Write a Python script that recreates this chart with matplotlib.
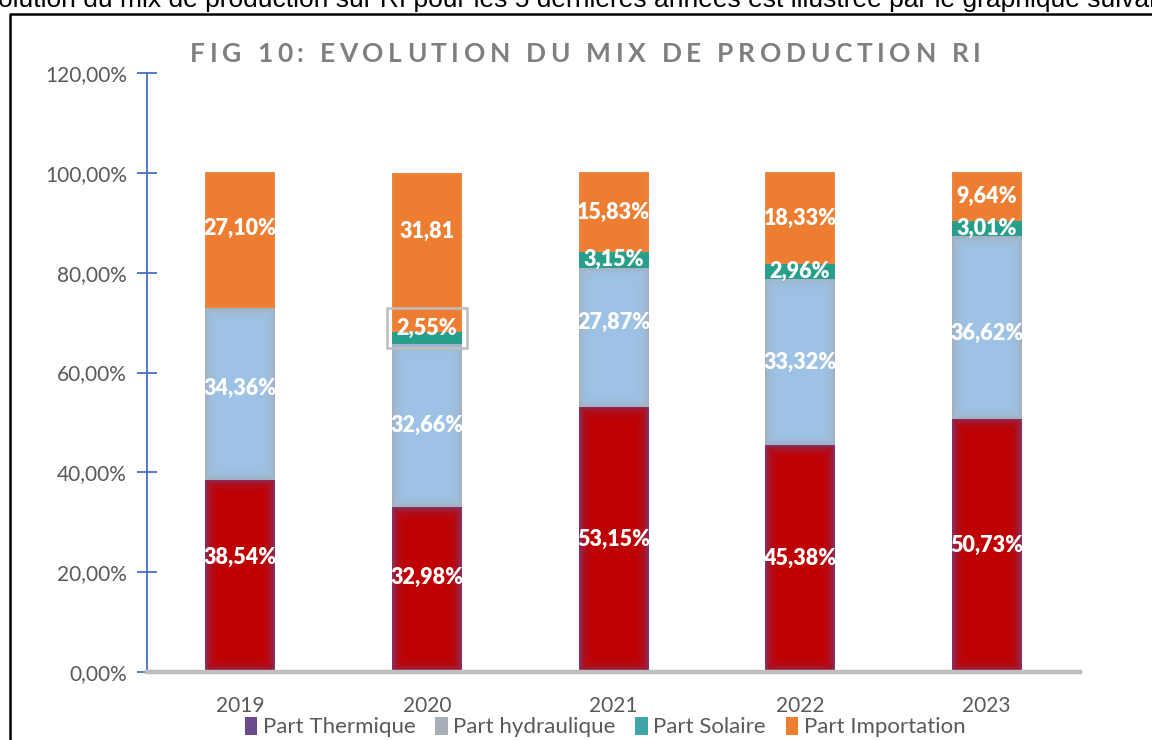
import matplotlib
matplotlib.use('Agg')
import matplotlib.pyplot as plt
import matplotlib.colors as mcolors
from matplotlib.patches import Patch
from matplotlib.lines import Line2D
import numpy as np

# ---------------- data ----------------
years = ['2019', '2020', '2021', '2022', '2023']
thermique = [38.54, 32.98, 53.15, 45.38, 50.73]
hydraulique = [34.36, 32.66, 27.87, 33.32, 36.62]
solaire = [0.0, 2.55, 3.15, 2.96, 3.01]
importation = [27.10, 31.81, 15.83, 18.33, 9.64]

lab_thermique = ['38,54%', '32,98%', '53,15%', '45,38%', '50,73%']
lab_hydraulique = ['34,36%', '32,66%', '27,87%', '33,32%', '36,62%']
lab_solaire = ['', '2,55%', '3,15%', '2,96%', '3,01%']
lab_importation = ['27,10%', '31,81', '15,83%', '18,33%', '9,64%']

series_names = ['Part Thermique', 'Part hydraulique', 'Part Solaire', 'Part Importation']
yticks = [0, 20, 40, 60, 80, 100, 120]
ytick_labels = ['0,00%', '20,00%', '40,00%', '60,00%', '80,00%', '100,00%', '120,00%']
title = 'FIG 10: EVOLUTION DU MIX DE PRODUCTION RI'
intro = 'olution du mix de production sur RI pour les 5 dernières années est illustrée par le graphique suivant'

# label nudges (style, in axis %)
nudge_th = [3.6, 2.4, 0, 0, 0]
nudge_hy = [1.0, 0, 3.0, 0, -1.2]
nudge_so = [0, 2.0, 0, 0, 0]
nudge_im = [2.4, 4.2, 0, 0, 0]

# ---------------- figure ----------------
W, H = 1152, 740
fig = plt.figure(figsize=(W / 100, H / 100), dpi=100)
fig.patch.set_facecolor('white')
ax = fig.add_axes([147 / W, 68 / H, 933 / W, 599 / H])

FONT = 'Lato'
GRAY = '#595959'

x = np.arange(len(years))
bw = 0.375
th = np.array(thermique)
hy = np.array(hydraulique)
so = np.array(solaire)
im = np.array(importation)

c_th, e_th = '#C00000', '#7C3A72'
c_hy, e_hy = '#9DC3E6', '#A2ADBB'
c_so, e_so = '#26A08A', '#2E9C8E'
c_im, e_im = '#ED7D31', '#EE8A48'

b_th = ax.bar(x, th, bw, color=c_th, linewidth=0, zorder=2)
b_hy = ax.bar(x, hy, bw, bottom=th, color=c_hy, linewidth=0, zorder=2)
b_so = ax.bar(x, so, bw, bottom=th + hy, color=c_so, linewidth=0, zorder=2)
b_im = ax.bar(x, im, bw, bottom=th + hy + so, color=c_im, linewidth=0, zorder=2)

ax.set_xlim(-0.5, len(years) - 0.5)
ax.set_ylim(0, 120)


def soft_fill(patches, c_center, c_edge, sigma):
    cc = np.array(mcolors.to_rgb(c_center))
    ce = np.array(mcolors.to_rgb(c_edge))
    for p in patches:
        x0, y0 = p.get_x(), p.get_y()
        w, h = p.get_width(), p.get_height()
        if h <= 0:
            continue
        (px0, py0), (px1, py1) = ax.transData.transform([(x0, y0), (x0 + w, y0 + h)])
        nx = max(int(round(px1 - px0)), 2)
        ny = max(int(round(py1 - py0)), 2)
        xs = np.arange(nx) + 0.5
        ys = np.arange(ny) + 0.5
        dx = np.minimum(xs, nx - xs)
        dy = np.minimum(ys, ny - ys)
        d = np.minimum(dx[None, :], dy[:, None])
        f = np.exp(-d / sigma)[..., None]
        img = cc * (1 - f) + ce * f
        ax.imshow(img, extent=(x0, x0 + w, y0, y0 + h), origin='lower',
                  aspect='auto', zorder=2.5, interpolation='bilinear')


soft_fill(b_th, c_th, e_th, 4.5)
soft_fill(b_hy, c_hy, e_hy, 4.5)
soft_fill(b_so, c_so, e_so, 2.0)
soft_fill(b_im, c_im, e_im, 1.5)

ax.set_xlim(-0.5, len(years) - 0.5)
ax.set_ylim(0, 120)

# data labels
lab_kw = dict(ha='center', va='center', color='white', fontweight='heavy',
              fontsize=15.5, family=FONT, zorder=5)
for i in range(len(years)):
    ax.text(x[i], th[i] / 2 + nudge_th[i], lab_thermique[i], **lab_kw)
    ax.text(x[i], th[i] + hy[i] / 2 + nudge_hy[i], lab_hydraulique[i], **lab_kw)
    if so[i] > 0:
        kw = dict(lab_kw)
        if i == 1:
            kw['bbox'] = dict(boxstyle='square,pad=0.45', fc='none', ec='#BFBFBF', lw=1.8)
        ax.text(x[i], th[i] + hy[i] + so[i] / 2 + nudge_so[i], lab_solaire[i], **kw)
    ax.text(x[i], th[i] + hy[i] + so[i] + im[i] / 2 + nudge_im[i], lab_importation[i], **lab_kw)

# axes styling
for s in ['top', 'right']:
    ax.spines[s].set_visible(False)
ax.spines['left'].set_color('#4472C4')
ax.spines['left'].set_linewidth(1.3)
ax.spines['bottom'].set_color('#BFBFBF')
ax.spines['bottom'].set_linewidth(3.2)
ax.spines['bottom'].set_zorder(6)

ax.set_yticks(yticks)
ax.set_yticklabels(ytick_labels)
ax.set_xticks(x)
ax.set_xticklabels(years)
ax.tick_params(axis='y', direction='inout', length=15, width=1.3, color='#4472C4',
               labelcolor=GRAY, labelsize=15, pad=7)
ax.tick_params(axis='x', length=0, labelcolor=GRAY, labelsize=15, pad=17)
for t in ax.get_xticklabels() + ax.get_yticklabels():
    t.set_family(FONT)

# legend
leg_colors = ['#6A4A8C', '#A6AEB7', '#3FA5A8', '#ED7D31']
handles = [Patch(facecolor=c, edgecolor='none') for c in leg_colors]
fig.legend(handles, series_names, loc='center', bbox_to_anchor=(605 / W, 1 - 727 / H),
           ncol=4, frameon=False, handlelength=0.55, handleheight=0.9, handletextpad=0.25,
           columnspacing=0.9, prop={'family': FONT, 'size': 16}, labelcolor=GRAY)

# title with letter spacing (char by char)
renderer = fig.canvas.get_renderer()
tkw = dict(fontsize=19, fontweight='bold', color='#7F7F7F', family=FONT,
           va='center', ha='left', transform=None)
widths = []
for ch in title:
    t = fig.text(0, 0, ch if ch != ' ' else 'n', **tkw)
    wpx = t.get_window_extent(renderer).width
    if ch == ' ':
        wpx *= 0.45
    widths.append(wpx)
    t.remove()
x_start, x_end = 190, 981
natural = sum(widths)
extra = (x_end - x_start - natural) / (len(title) - 1)
cx = x_start
for ch, wpx in zip(title, widths):
    if ch != ' ':
        fig.text(cx, H - 54, ch, **tkw)
    cx += wpx + extra

# intro text cut at top of image (as in the reference)
fig.text(-2, H - 7, intro, fontsize=19, family='Liberation Sans', color='black',
         ha='left', va='baseline', transform=None)

# outer frame (top and left borders)
fig.add_artist(Line2D([10, 10, W + 5], [-5, H - 14, H - 14], color='black', lw=1.8,
                      transform=None))

fig.savefig('out.png', dpi=100, facecolor='white')
